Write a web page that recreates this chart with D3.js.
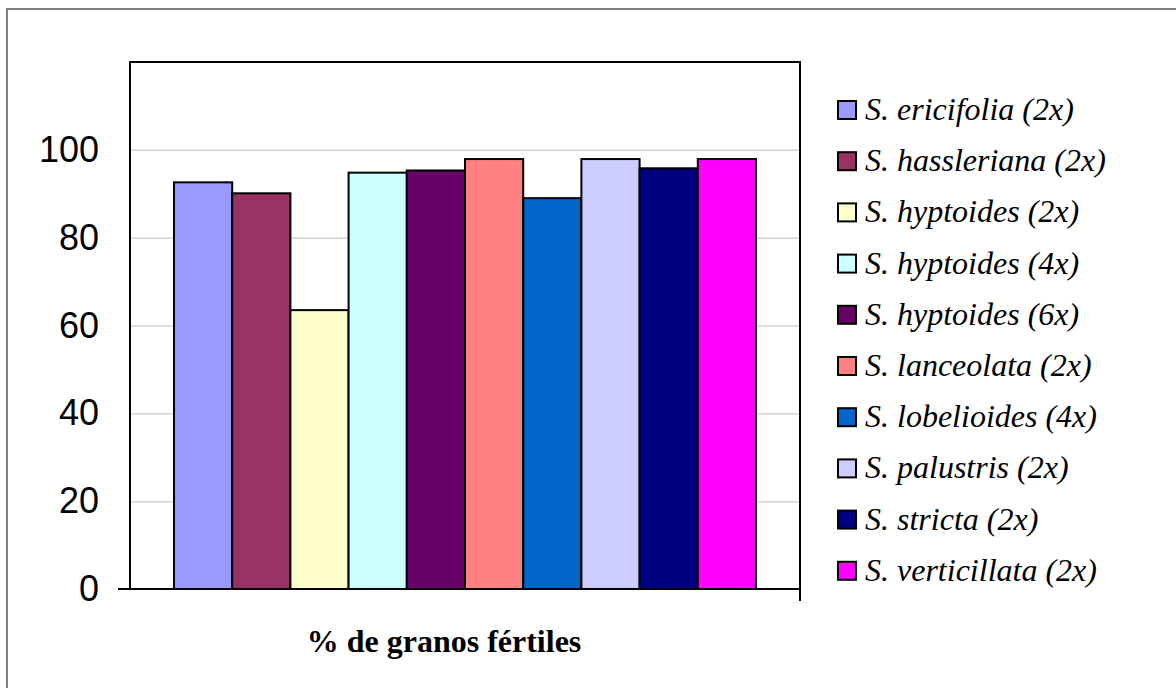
<!DOCTYPE html>
<html>
<head>
<meta charset="utf-8">
<script src="https://cdn.jsdelivr.net/npm/d3@7"></script>
<style>
  html, body { margin: 0; padding: 0; background: #fff; }
  svg { display: block; }
</style>
</head>
<body>
<svg id="chart" width="1176" height="688"></svg>
<script>
// Species (legend order) and percentage of fertile pollen grains
const species = [
  "S. ericifolia (2x)",
  "S. hassleriana (2x)",
  "S. hyptoides (2x)",
  "S. hyptoides (4x)",
  "S. hyptoides (6x)",
  "S. lanceolata (2x)",
  "S. lobelioides (4x)",
  "S. palustris (2x)",
  "S. stricta (2x)",
  "S. verticillata (2x)"
];
const fertile = [92.6, 90.1, 63.5, 94.8, 95.3, 97.9, 89.0, 97.9, 95.8, 97.9];
const colors = ["#9999FF", "#993366", "#FFFFCC", "#CCFFFF", "#660066",
                "#FF8080", "#0066CC", "#CCCCFF", "#000080", "#FF00FF"];
const yTicks = [0, 20, 40, 60, 80, 100];
const categoryLabel = "% de granos fértiles";

const svg = d3.select("#chart");
const plot = { left: 130, right: 800, top: 62, bottom: 589 };

// Outer chart frame
svg.append("rect")
  .attr("x", 7).attr("y", 9)
  .attr("width", 1200).attr("height", 700)
  .attr("fill", "#fff")
  .attr("stroke", "#808080").attr("stroke-width", 2);

const y = d3.scaleLinear().domain([0, 120]).range([plot.bottom, plot.top]);
const x = d3.scaleBand()
  .domain(species)
  .range([plot.left, plot.right])
  .paddingInner(0)
  .paddingOuter(0.756);

// Gridlines and value labels
const yAxis = svg.append("g")
  .attr("transform", `translate(${plot.left},0)`)
  .call(d3.axisLeft(y)
    .tickValues(yTicks)
    .tickSize(-(plot.right - plot.left))
    .tickPadding(31)
    .tickFormat(d3.format("d")));
yAxis.select(".domain").remove();
yAxis.selectAll(".tick line")
  .attr("stroke", d => d === 0 ? "none" : "#d4d4d4")
  .attr("stroke-width", 1.5);
yAxis.selectAll(".tick text")
  .attr("fill", "#000")
  .style("font-family", "'Liberation Sans', Arial, sans-serif")
  .style("font-size", "36px");

// Bars
svg.append("g")
  .selectAll("rect")
  .data(species)
  .join("rect")
  .attr("x", d => x(d))
  .attr("y", (d, i) => y(fertile[i]))
  .attr("width", x.bandwidth())
  .attr("height", (d, i) => y(0) - y(fertile[i]))
  .attr("fill", (d, i) => colors[i])
  .attr("stroke", "#000")
  .attr("stroke-width", 2);

// Plot frame (left, top, right)
svg.append("path")
  .attr("d", `M${plot.left},${plot.bottom}V${plot.top}H${plot.right}V${plot.bottom}`)
  .attr("fill", "none")
  .attr("stroke", "#000")
  .attr("stroke-width", 2);

// Category axis line with tick marks
svg.append("line")
  .attr("x1", 118).attr("x2", plot.right)
  .attr("y1", y(0)).attr("y2", y(0))
  .attr("stroke", "#000").attr("stroke-width", 2);
svg.append("line")
  .attr("x1", plot.right).attr("x2", plot.right)
  .attr("y1", y(0)).attr("y2", y(0) + 12)
  .attr("stroke", "#000").attr("stroke-width", 2);

svg.append("text")
  .attr("x", 444).attr("y", 652)
  .attr("text-anchor", "middle")
  .style("font-family", "'Liberation Serif', 'Times New Roman', serif")
  .style("font-weight", "bold")
  .style("font-size", "32px")
  .text(categoryLabel);

// Legend
const legend = svg.append("g").attr("transform", "translate(838,110)");
const rows = legend.selectAll("g")
  .data(species)
  .join("g")
  .attr("transform", (d, i) => `translate(0,${i * 51.2})`);
rows.append("rect")
  .attr("x", 0).attr("y", -9)
  .attr("width", 18).attr("height", 18)
  .attr("fill", (d, i) => colors[i])
  .attr("stroke", "#000").attr("stroke-width", 2);
rows.append("text")
  .attr("x", 27).attr("y", 10)
  .style("font-family", "'Liberation Serif', 'Times New Roman', serif")
  .style("font-style", "italic")
  .style("font-size", "32px")
  .text(d => d);
</script>
</body>
</html>
